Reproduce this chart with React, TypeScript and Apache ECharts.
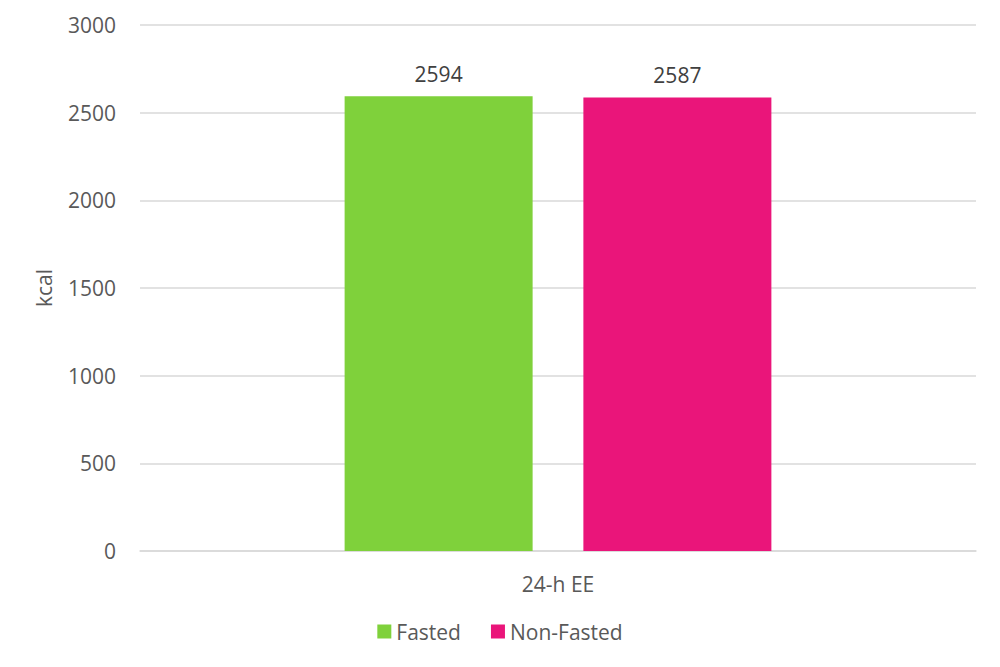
import { useEffect, useRef } from 'react';
import * as echarts from 'echarts';

const categories = ['24-h EE'];
const seriesNames = ['Fasted', 'Non-Fasted'];
const fastedValues = [2594];
const nonFastedValues = [2587];
const seriesColors = ['#7FD13B', '#EA157A'];

const FONT = '"Open Sans", "Noto Sans", sans-serif';
const FS = 21;

export default function App() {
  const chartRef = useRef<HTMLDivElement>(null);

  useEffect(() => {
    if (!chartRef.current) return;
    document.body.style.margin = '0';
    const chart = echarts.init(chartRef.current, null, { renderer: 'svg' });

    const option: echarts.EChartsOption = {
      animation: false,
      textStyle: { fontFamily: FONT },
      grid: { left: 140, right: 24, top: 25, bottom: 116 },
      legend: {
        bottom: 20,
        left: 'center',
        itemWidth: 14,
        itemHeight: 14,
        itemGap: 30,
        icon: 'rect',
        textStyle: { color: '#595959', fontSize: FS, fontFamily: FONT },
        data: seriesNames,
      },
      xAxis: {
        type: 'category',
        data: categories,
        axisLine: { lineStyle: { color: '#D9D9D9', width: 1.5 } },
        axisTick: { show: false },
        axisLabel: { color: '#595959', fontSize: FS, margin: 22, fontFamily: FONT },
      },
      yAxis: {
        type: 'value',
        min: 0,
        max: 3000,
        interval: 500,
        name: 'kcal',
        nameLocation: 'middle',
        nameGap: 86,
        nameTextStyle: { color: '#595959', fontSize: FS, fontFamily: FONT },
        axisLine: { show: false },
        axisTick: { show: false },
        axisLabel: {
          color: '#595959',
          fontSize: FS,
          margin: 24,
          fontFamily: FONT,
          formatter: (v: number) => String(v),
        },
        splitLine: { lineStyle: { color: '#D9D9D9', width: 1.5 } },
      },
      series: [
        {
          name: seriesNames[0],
          type: 'bar',
          data: fastedValues,
          barWidth: 188,
          barGap: '27%',
          itemStyle: { color: seriesColors[0] },
          label: {
            show: true,
            position: 'top',
            distance: 12,
            color: '#404040',
            fontSize: FS,
            fontFamily: FONT,
          },
        },
        {
          name: seriesNames[1],
          type: 'bar',
          data: nonFastedValues,
          barWidth: 188,
          itemStyle: { color: seriesColors[1] },
          label: {
            show: true,
            position: 'top',
            distance: 12,
            color: '#404040',
            fontSize: FS,
            fontFamily: FONT,
          },
        },
      ],
    };

    chart.setOption(option);

    return () => {
      chart.dispose();
    };
  }, []);

  return <div ref={chartRef} style={{ width: '1000px', height: '667px' }} />;
}
